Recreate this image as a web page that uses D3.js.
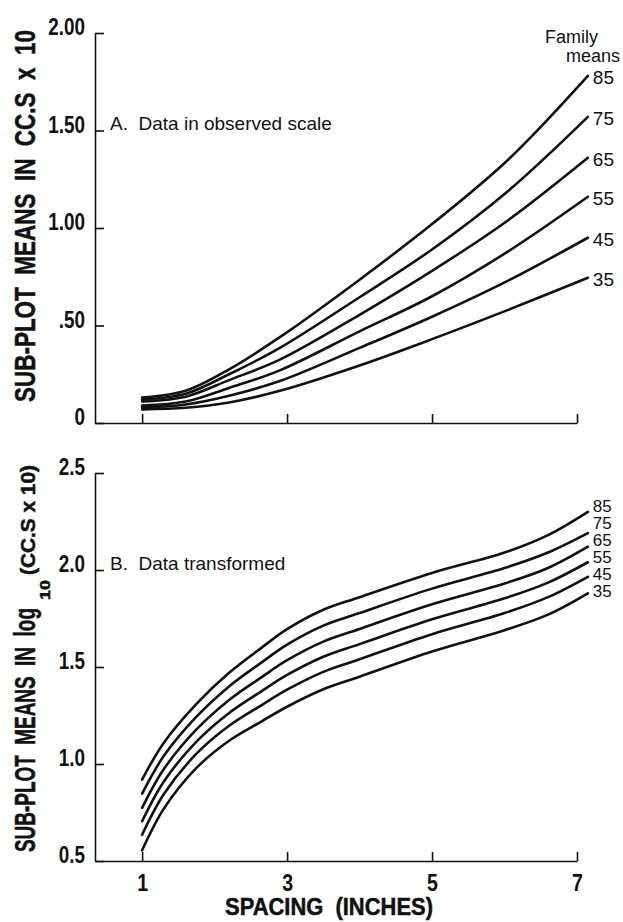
<!DOCTYPE html>
<html>
<head>
<meta charset="utf-8">
<script src="https://cdn.jsdelivr.net/npm/d3@7"></script>
<style>
  body { margin: 0; background: #fff; }
  .tick text, .bold {
    font-family: "Liberation Sans", Arial, Helvetica, sans-serif;
    font-weight: bold;
    font-size: 23px;
    fill: #111;
  }
  .bold { stroke: #111; stroke-width: 0.5px; }
  .plain {
    font-family: "Liberation Sans", Arial, Helvetica, sans-serif;
    fill: #111;
  }
</style>
</head>
<body>
<div id="container"></div>
<script>
// family means, top curve first
const families = ["85", "75", "65", "55", "45", "35"];

// A. observed scale (CC.S x 10)
const spacingA = [1, 1.6, 2.2, 2.9, 4, 5, 6.05, 7.15];
const observed85 = [0.13, 0.165, 0.275, 0.44, 0.735, 1.02, 1.35, 1.78];
const observed75 = [0.12, 0.15, 0.25, 0.385, 0.645, 0.89, 1.19, 1.57];
const observed65 = [0.11, 0.135, 0.22, 0.325, 0.555, 0.78, 1.04, 1.36];
const observed55 = [0.09, 0.11, 0.18, 0.27, 0.47, 0.65, 0.88, 1.16];
const observed45 = [0.08, 0.095, 0.14, 0.215, 0.385, 0.545, 0.73, 0.95];
const observed35 = [0.07, 0.078, 0.105, 0.165, 0.295, 0.43, 0.58, 0.745];

// B. log10 transformed
const spacingB = [1, 1.3, 1.75, 2.2, 2.65, 3, 3.5, 4, 5, 6, 6.6, 7.15];
const log85 = [0.92, 1.11, 1.31, 1.47, 1.60, 1.695, 1.795, 1.86, 1.985, 2.09, 2.18, 2.30];
const log75 = [0.847, 1.042, 1.244, 1.40, 1.524, 1.615, 1.713, 1.778, 1.904, 2.01, 2.09, 2.19];
const log65 = [0.774, 0.974, 1.178, 1.33, 1.448, 1.535, 1.631, 1.696, 1.823, 1.93, 2.01, 2.12];
const log55 = [0.705, 0.91, 1.115, 1.263, 1.376, 1.459, 1.553, 1.618, 1.746, 1.854, 1.935, 2.04];
const log45 = [0.635, 0.845, 1.053, 1.197, 1.304, 1.383, 1.475, 1.54, 1.669, 1.778, 1.86, 1.965];
const log35 = [0.555, 0.77, 0.98, 1.12, 1.22, 1.295, 1.385, 1.45, 1.58, 1.69, 1.77, 1.88];

const xTicks = [1, 3, 5, 7];
const yTicksA = [0, 0.5, 1, 1.5, 2];
const yTickLabelsA = ["0", ".50", "1.00", "1.50", "2.00"];
const yTicksB = [0.5, 1, 1.5, 2, 2.5];
const yTickLabelsB = ["0.5", "1.0", "1.5", "2.0", "2.5"];

const width = 623, height = 922;

const svg = d3.select("#container")
  .append("svg")
    .attr("width", width)
    .attr("height", height);

const x = d3.scaleLinear().domain([0.35, 7]).range([95, 577]);

const panels = [
  {
    xs: spacingA,
    series: [observed85, observed75, observed65, observed55, observed45, observed35],
    y: d3.scaleLinear().domain([0, 2]).range([423, 33]),
    ticks: yTicksA, tickLabels: yTickLabelsA,
    showX: false,
    labelSize: 19, labelShift: 1,
    note: "A.  Data in observed scale", noteY: 130
  },
  {
    xs: spacingB,
    series: [log85, log75, log65, log55, log45, log35],
    y: d3.scaleLinear().domain([0.5, 2.5]).range([861, 473]),
    ticks: yTicksB, tickLabels: yTickLabelsB,
    showX: true,
    labelSize: 17, labelShift: -2,
    note: "B.  Data transformed", noteY: 570
  }
];

panels.forEach(p => {
  const g = svg.append("g");

  // x axis, ticks pointing up
  g.append("g")
    .attr("transform", `translate(0,${p.y.range()[0]})`)
    .call(d3.axisBottom(x)
      .tickValues(xTicks)
      .tickSize(-9)
      .tickSizeOuter(0)
      .tickPadding(14)
      .tickFormat(p.showX ? d3.format("d") : () => ""))
    .selectAll(".tick text")
      .attr("transform", "scale(0.85,1)");

  // y axis, ticks pointing right
  g.append("g")
    .attr("transform", `translate(${x.range()[0]},0)`)
    .call(d3.axisLeft(p.y)
      .tickValues(p.ticks)
      .tickSize(-9)
      .tickSizeOuter(0)
      .tickPadding(11)
      .tickFormat(d => p.tickLabels[p.ticks.indexOf(d)]))
    .selectAll(".tick text")
      .attr("x", 0)
      .attr("dy", "0.08em")
      .attr("transform", "translate(-10,0) scale(0.82,1)");

  g.selectAll(".domain, .tick line")
    .attr("stroke", "#111")
    .attr("stroke-width", 1.6);

  // curves
  const line = d3.line()
    .x(d => x(d[0]))
    .y(d => p.y(d[1]))
    .curve(d3.curveCatmullRom.alpha(0.5));

  g.selectAll(".curve")
    .data(p.series)
    .enter()
    .append("path")
      .attr("class", "curve")
      .attr("d", s => line(p.xs.map((v, i) => [v, s[i]])))
      .attr("fill", "none")
      .attr("stroke", "#111")
      .attr("stroke-width", 2.6)
      .attr("stroke-linecap", "round");

  // family labels at the right ends, pushed apart from the bottom up
  const lastX = p.xs[p.xs.length - 1];
  const ends = p.series.map((s, i) => ({ label: families[i], y: p.y(s[s.length - 1]) + p.labelShift }));
  for (let i = ends.length - 2; i >= 0; i--) {
    ends[i].y = Math.min(ends[i].y, ends[i + 1].y - 17);
  }
  g.selectAll(".family")
    .data(ends)
    .enter()
    .append("text")
      .attr("class", "plain")
      .attr("x", x(lastX) + 5)
      .attr("y", d => d.y)
      .attr("dy", "0.36em")
      .style("font-size", p.labelSize + "px")
      .text(d => d.label);

  // panel note
  g.append("text")
    .attr("class", "plain")
    .attr("x", 110)
    .attr("y", p.noteY)
    .style("font-size", "19px")
    .style("white-space", "pre")
    .text(p.note);
});

svg.append("text")
  .attr("class", "plain")
  .attr("x", 598).attr("y", 43)
  .attr("text-anchor", "end")
  .style("font-size", "18px")
  .text("Family");
svg.append("text")
  .attr("class", "plain")
  .attr("x", 620).attr("y", 62)
  .attr("text-anchor", "end")
  .style("font-size", "18px")
  .text("means");

// squeeze a text run to a given length along its own x
function fit(sel, tx, ty, rotate, length) {
  const n = sel.node().getComputedTextLength();
  sel.attr("transform", `translate(${tx},${ty}) rotate(${rotate}) scale(${length / n},1)`);
}

function boldText(str, size) {
  return svg.append("text")
    .attr("class", "bold")
    .style("font-size", size + "px")
    .style("white-space", "pre")
    .text(str);
}

// axis titles
fit(boldText("SUB-PLOT  MEANS  IN  CC.S  x  10", 30), 35, 402, -90, 372);
fit(boldText("SUB-PLOT  MEANS  IN  log", 30), 35, 852, -90, 244);
fit(boldText("10", 14), 50, 600, -90, 20);
fit(boldText("(CC.S x 10)", 20), 35, 575, -90, 110);
fit(boldText("SPACING  (INCHES)", 23), 225, 915, 0, 208);
</script>
</body>
</html>
